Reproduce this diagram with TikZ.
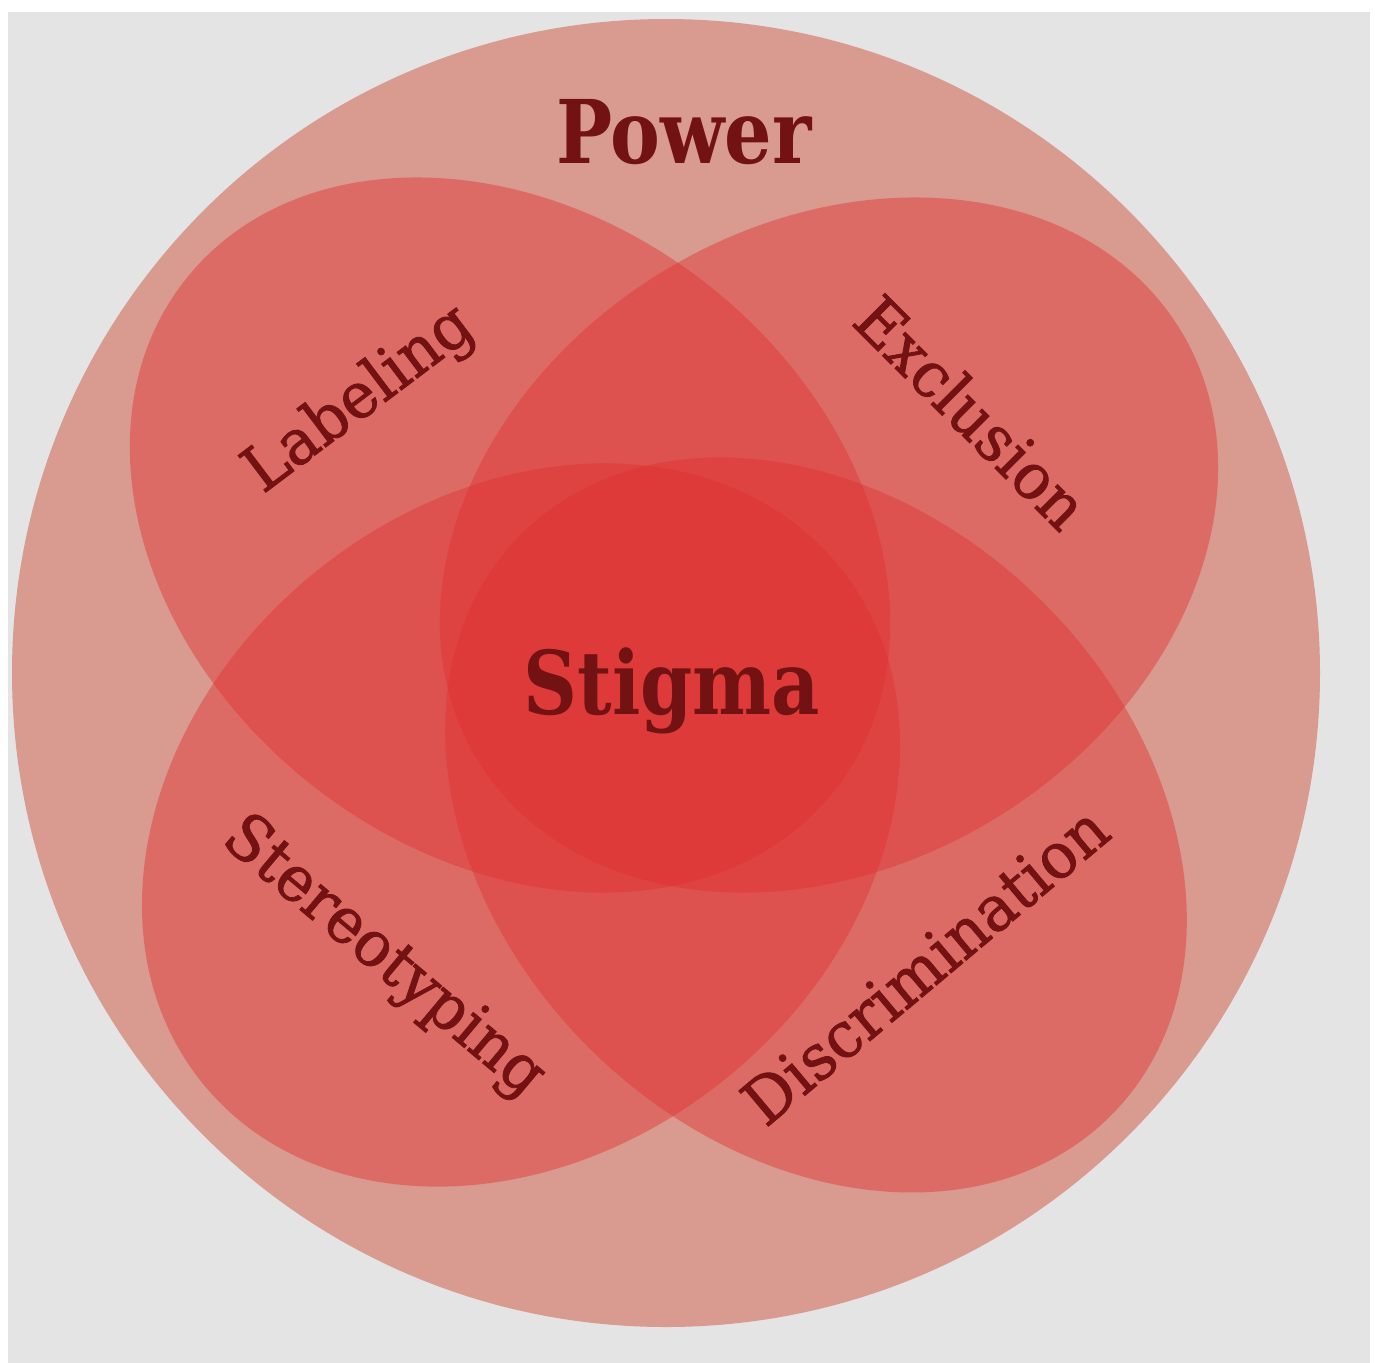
\documentclass[tikz,border=0pt]{standalone}
\usepackage{fontspec}
\newfontfamily\slabfont{DejaVu Serif}[FakeBold=1.3, FakeStretch=0.96]
\newfontfamily\slabheadfont{DejaVu Serif}[FakeStretch=0.85]

\definecolor{panelgrey}{HTML}{E4E4E4}
\definecolor{powerfill}{HTML}{D99A8F}
\definecolor{petalred}{HTML}{E03031}
\definecolor{inkred}{HTML}{731212}

\begin{document}
\begin{tikzpicture}[x=0.01cm, y=0.01cm,
  petal/.style={fill=petalred, fill opacity=0.44},
  tag/.style={text=inkred, font=\slabfont\fontsize{18}{18}\selectfont},
  head/.style={text=inkred, font=\slabheadfont\bfseries\fontsize{25}{25}\selectfont}]
  \useasboundingbox (0,0) rectangle (1375,-1363);
  \fill[white] (0,0) rectangle (1375,-1363);
  \fill[panelgrey] (8,-12) rectangle (1370,-1363);
  % outer ring
  \fill[powerfill] (666,-673) circle[radius=654];
  % the four petals
  \fill[petal, rotate around={-38:(510,-535)}] (510,-535) ellipse[x radius=413, y radius=319];
  \fill[petal, rotate around={31.5:(829,-545)}] (829,-545) ellipse[x radius=412, y radius=320];
  \fill[petal, rotate around={39:(521,-825)}] (521,-825) ellipse[x radius=410, y radius=326];
  \fill[petal, rotate around={-44:(816,-825)}] (816,-825) ellipse[x radius=414, y radius=318];
  % labels
  \node[head, anchor=base] (power) at (684,-163) {Power};
  \node[head, anchor=base] (stigma) at (672,-714) {Stigma};
  \node[tag, rotate=37] (labeling) at (360,-400) {Labeling};
  \node[tag, rotate=-45] (exclusion) at (972,-412) {Exclusion};
  \node[tag, rotate=-40] (stereotyping) at (383,-958) {Stereotyping};
  \node[tag, rotate=40] (discrimination) at (925,-965) {Discrimination};
\end{tikzpicture}
\end{document}
